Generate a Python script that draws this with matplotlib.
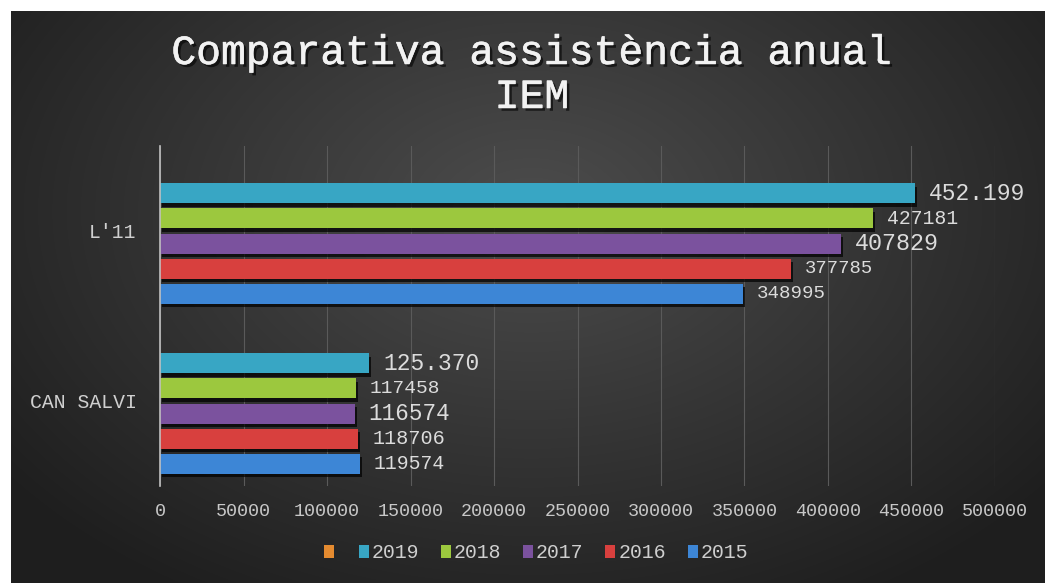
import matplotlib.pyplot as plt
import matplotlib.patheffects as pe
from matplotlib.patches import Patch
import numpy as np

# data
categories = ["CAN SALVI", "L'11"]
years = ["2019", "2018", "2017", "2016", "2015"]
values = {
    "2019": [125370, 452199],
    "2018": [117458, 427181],
    "2017": [116574, 407829],
    "2016": [118706, 377785],
    "2015": [119574, 348995],
}
value_labels = {
    "2019": ["125.370", "452.199"],
    "2018": ["117458", "427181"],
    "2017": ["116574", "407829"],
    "2016": ["118706", "377785"],
    "2015": ["119574", "348995"],
}
x_ticks = np.arange(0, 500001, 50000)

# styles
colors = {"2019": "#38a6c4", "2018": "#9cc83e", "2017": "#7b529e",
          "2016": "#d8403e", "2015": "#3d86d6"}
empty_color = "#e58b30"   # series with no data (first slot, left empty)
label_sizes = {"2019": [16.5, 16.5], "2018": [14.0, 14.2], "2017": [16.3, 16.8],
               "2016": [14.5, 13.6], "2015": [14.2, 13.8]}
mono = "Liberation Mono"
txt_col = "#dcdcdc"

fig = plt.figure(figsize=(10.45, 5.83), dpi=100)
fig.patch.set_facecolor("white")

# dark radial background
bg = fig.add_axes([11 / 1045, 0, 1 - 11 / 1045, 1 - 11 / 583])
bg.set_axis_off()
yy, xx = np.mgrid[0:572, 0:1034]
r = np.sqrt(((xx - 520) / 620.0) ** 2 + ((yy - 200) / 420.0) ** 2)
shade = np.clip(0.30 - 0.17 * r, 0.12, 0.30)
bg.imshow(np.dstack([shade] * 3), aspect="auto", interpolation="bilinear")

ax = fig.add_axes([160 / 1045, 97 / 583, 835 / 1045, 340 / 583])
ax.set_facecolor("none")

step = 0.148
height = 0.118
y = np.arange(len(categories))
for i, yr in enumerate(years):
    # slot +2.5 belongs to the empty series
    off = (1.5 - i) * step
    bars = ax.barh(y + off, values[yr], height=height, color=colors[yr],
                   edgecolor="none", zorder=3, label=yr)
    for b in bars:
        b.set_path_effects([pe.SimplePatchShadow(offset=(1.5, -2.5), shadow_rgbFace="black", alpha=0.7),
                            pe.Normal()])
    for j, b in enumerate(bars):
        ax.annotate(value_labels[yr][j], (b.get_width(), b.get_y() + b.get_height() / 2),
                    xytext=(10, 0), textcoords="offset points", ha="left", va="center",
                    fontsize=label_sizes[yr][j], family=mono, color=txt_col, zorder=4)

ax.set_xlim(0, 500000)
ax.set_ylim(-0.5, 1.5)
ax.set_xticks(x_ticks)
ax.set_xticklabels([str(t) for t in x_ticks], family=mono, fontsize=13.2, color="#c8c8c8")
ax.set_yticks(y)
ax.set_yticklabels(categories, family=mono, fontsize=14.2, color="#d0d0d0")
ax.tick_params(axis="both", length=0)
ax.tick_params(axis="x", pad=12)
ax.tick_params(axis="y", pad=17)
ax.grid(axis="x", color="#5a5a5a", linewidth=0.8, zorder=1)
for s in ["top", "right", "bottom"]:
    ax.spines[s].set_visible(False)
ax.spines["left"].set_color("#c0c0c0")
ax.spines["left"].set_linewidth(1.2)
ax.spines["left"].set_zorder(5)

fig.text(532 / 1045, 1 - 75 / 583, "Comparativa assistència anual\nIEM",
         ha="center", va="center", multialignment="center", family=mono,
         fontsize=29.8, color="#f2f2f2", linespacing=1.2,
         path_effects=[pe.SimplePatchShadow(offset=(2, -2), shadow_rgbFace="black", alpha=0.6),
                       pe.withStroke(linewidth=0.4, foreground="#f2f2f2")])

handles = [Patch(facecolor=empty_color, label="")]
handles += [Patch(facecolor=colors[yr], label=yr) for yr in years]
leg = fig.legend(handles=handles, loc="center", bbox_to_anchor=(536 / 1045, 1 - 553 / 583),
                 ncol=6, frameon=False, handlelength=0.5, handleheight=0.62,
                 handletextpad=0.15, columnspacing=1.1,
                 prop={"family": mono, "size": 14.3})
for t in leg.get_texts():
    t.set_color("#cfcfcf")

fig.savefig("out.png", dpi=100, facecolor=fig.get_facecolor())
